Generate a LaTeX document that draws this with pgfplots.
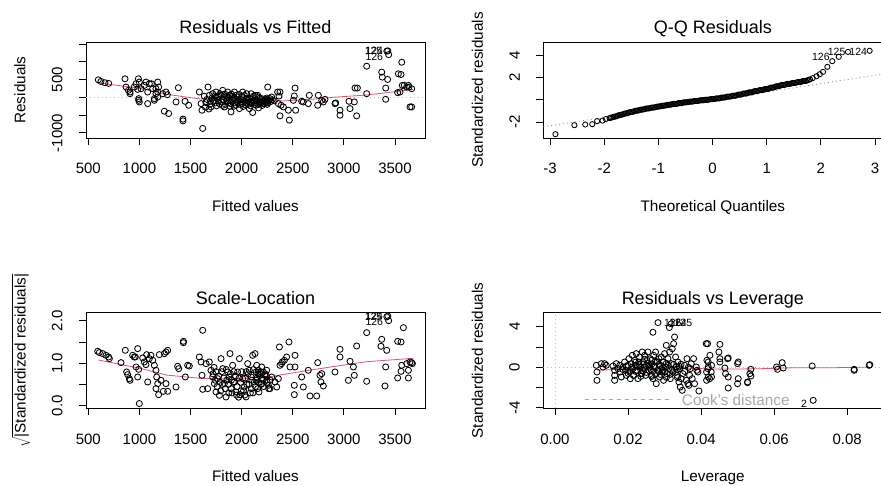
\documentclass[border=0pt]{standalone}
\usepackage{fontspec}
\setmainfont{Liberation Sans}
\usepackage{pgfplots}
\pgfplotsset{compat=1.18}
\definecolor{lowess}{HTML}{DF536B}
\definecolor{refgray}{HTML}{BEBEBE}
\definecolor{qqgray}{HTML}{8C8C8C}
\definecolor{cookgray}{HTML}{A8A8A8}

\pgfplotsset{
  rpanel/.style={
    scale only axis, width=339pt, height=96pt, anchor=south west,
    axis line style={black, line width=0.8pt},
    tick align=outside, xtick pos=left, ytick pos=left,
    major tick length=7pt, tick style={black, line width=0.8pt},
    scaled x ticks=false, scaled y ticks=false,
    ticklabel style={font=\fontsize{15}{18}\selectfont, inner sep=0pt},
    xticklabel style={anchor=north, yshift=-18.3pt},
    yticklabel style={xshift=-16.3pt, rotate=90, anchor=south},
    title style={at={(axis description cs:0.5,1)}, anchor=base, yshift=2pt,
      font=\fontsize{18}{21}\selectfont},
    xlabel style={at={(axis description cs:0.5,0)}, anchor=base, yshift=-73.5pt,
      font=\fontsize{15.3}{18}\selectfont},
    ylabel style={at={([xshift=-60.5pt]axis description cs:0,0.5)}, anchor=base,
      font=\fontsize{15.3}{18}\selectfont},
  },
  pts/.style={only marks, mark=o, mark size=3.05pt, mark options={black, line width=0.85pt}},
}
\tikzset{idlab/.style={font=\fontsize{10.5}{12}\selectfont, inner sep=0pt}}

\begin{document}
\begin{tikzpicture}
\path[use as bounding box] (0,0) rectangle (881pt,486pt);

% ---------------- Residuals vs Fitted ----------------
\begin{axis}[rpanel, at={(86pt,348pt)},
  xmin=477.5, xmax=3793.5, ymin=-1145, ymax=1555,
  xtick={500,1000,1500,2000,2500,3000,3500},
  xticklabels={500,1000,1500,2000,2500,3000,3500},
  ytick={-1000,-500,0,500,1000,1500},
  yticklabels={-1000,,,500,,},
  title={Residuals vs Fitted}, xlabel={Fitted values}, ylabel={Residuals}]
\addplot[refgray, line width=0.8pt, dash pattern=on 1pt off 3pt] coordinates {(477.5,0) (3793.5,0)};
\addplot[pts] table {
598 492
624 446
663 409
699 390
859 520
869 288
892 195
908 148
908 101
950 288
967 381
983 223
990 520
999 428
993 -85
999 -131
993 -38
1016 241
1048 334
1064 428
1081 148
1081 -178
1097 381
1117 381
1130 241
1146 -85
1146 -38
1162 101
1162 241
1179 428
1179 8
1179 148
1188 288
1228 101
1244 -392
1260 148
1273 73
1286 -457
1358 -131
1381 269
1426 -615
1426 -662
1446 -113
1482 -224
1586 148
1603 -178
1612 -364
1619 -876
1635 30
1645 -280
1650 -150
1660 -60
1671 288
1680 -330
1684 55
1690 -200
1695 -110
1700 -271
1710 -20
1717 101
1725 -120
1733 -85
1740 40
1745 -160
1749 148
1755 -240
1766 8
1770 -90
1778 30
1782 -178
1790 100
1798 55
1805 -130
1810 -230
1815 195
1820 -60
1831 -271
1835 90
1840 -200
1847 -38
1855 30
1858 -100
1863 148
1870 -150
1875 -20
1880 55
1885 -250
1893 -180
1896 -411
1900 90
1910 30
1912 -85
1920 -30
1925 -250
1929 148
1935 -160
1940 -60
1945 -224
1950 60
1958 -140
1961 8
1970 -100
1975 80
1978 -318
1985 -200
1990 -60
1994 -131
2000 20
2005 -180
2010 148
2015 -260
2020 -90
2026 55
2035 -150
2040 -220
2043 -38
2050 100
2055 -30
2059 -85
2065 -200
2070 -130
2075 -318
2080 -30
2088 -240
2092 101
2100 -150
2105 -60
2108 -429
2115 30
2120 -150
2124 -85
2130 -200
2131 55
2138 -80
2141 -224
2147 -85
2150 -100
2157 55
2160 -200
2163 8
2165 -300
2173 -131
2178 -30
2180 -131
2190 -150
2196 -38
2200 -230
2205 -140
2210 -100
2212 -178
2225 -180
2228 -85
2235 -120
2240 -60
2245 -20
2250 -200
2255 288
2255 -160
2261 -113
2270 -90
2277 -38
2285 -120
2294 8
2300 -70
2320 -100
2352 148
2359 -178
2365 36
2375 148
2375 -522
2385 -224
2408 -271
2457 -364
2466 -643
2506 -85
2515 36
2522 260
2528 -364
2587 -113
2603 -131
2652 -178
2662 55
2744 -224
2750 55
2783 -85
2799 -131
2815 -57
2913 -178
2920 -160
2962 -364
2962 -504
3050 -113
3060 -318
3102 -131
3109 260
3125 -522
3132 260
3223 874
3223 101
3370 707
3376 567
3409 260
3409 -57
3428 502
3526 130
3533 660
3549 148
3559 641
3566 986
3572 334
3591 334
3614 288
3631 334
3637 288
3647 -271
3663 -271
3663 241
3420 1300
3430 1305
3438 1200
};
\addplot[lowess, line width=0.8pt] coordinates {
(582,408) (800,330) (1006,251) (1267,84) (1593,-47) (2082,-75)
(2408,-103) (2734,-47) (2897,0) (3223,64) (3450,140) (3679,223)};
\node[idlab, anchor=east] at (axis cs:3385,1310) {124};
\node[idlab, anchor=east] at (axis cs:3378,1298) {125};
\node[idlab, anchor=east] at (axis cs:3385,1130) {126};
\end{axis}

% ---------------- Q-Q Residuals ----------------
\begin{axis}[rpanel, at={(543.3pt,348pt)},
  xmin=-3.124, xmax=3.134, ymin=-3.42, ymax=5.19,
  xtick={-3,-2,-1,0,1,2,3},
  xticklabels={-3,-2,-1,0,1,2,3},
  ytick={-2,0,2,4}, yticklabels={-2,,2,4},
  title={Q-Q Residuals}, xlabel={Theoretical Quantiles}, ylabel={Standardized residuals}]
\addplot[qqgray, line width=0.8pt, dash pattern=on 1pt off 3pt] coordinates {(-3.124,-2.42) (3.134,2.31)};
\addplot[pts, mark size=2.6pt] table {
-2.90 -3.08
-2.55 -2.27
-2.35 -2.21
-2.22 -2.18
-2.13 -1.91
-2.03 -1.86
-1.97 -1.72
-1.90 -1.64
-1.875 -1.59
-1.85 -1.57
-1.825 -1.53
-1.80 -1.50
-1.775 -1.47
-1.75 -1.42
-1.725 -1.37
-1.70 -1.35
-1.675 -1.33
-1.65 -1.28
-1.625 -1.23
-1.60 -1.22
-1.575 -1.20
-1.55 -1.15
-1.525 -1.10
-1.50 -1.09
-1.475 -1.08
-1.45 -1.03
-1.425 -0.98
-1.40 -0.97
-1.375 -0.96
-1.35 -0.92
-1.325 -0.88
-1.30 -0.87
-1.275 -0.86
-1.25 -0.82
-1.225 -0.78
-1.20 -0.77
-1.175 -0.77
-1.15 -0.73
-1.125 -0.70
-1.10 -0.69
-1.075 -0.68
-1.05 -0.65
-1.025 -0.61
-1.00 -0.60
-0.975 -0.59
-0.95 -0.56
-0.925 -0.53
-0.90 -0.52
-0.875 -0.51
-0.85 -0.48
-0.825 -0.45
-0.80 -0.44
-0.775 -0.43
-0.75 -0.40
-0.725 -0.37
-0.70 -0.37
-0.675 -0.36
-0.65 -0.33
-0.625 -0.30
-0.60 -0.30
-0.575 -0.29
-0.55 -0.26
-0.525 -0.22
-0.50 -0.22
-0.475 -0.22
-0.45 -0.19
-0.425 -0.16
-0.40 -0.16
-0.375 -0.16
-0.35 -0.13
-0.325 -0.10
-0.30 -0.10
-0.275 -0.10
-0.25 -0.07
-0.225 -0.04
-0.20 -0.04
-0.175 -0.04
-0.15 -0.01
-0.125 0.01
-0.10 0.01
-0.075 0.01
-0.05 0.04
-0.025 0.07
0.00 0.07
0.025 0.07
0.05 0.10
0.075 0.13
0.10 0.13
0.125 0.13
0.15 0.17
0.175 0.21
0.20 0.21
0.225 0.21
0.25 0.25
0.275 0.29
0.30 0.29
0.325 0.29
0.35 0.33
0.375 0.37
0.40 0.37
0.425 0.37
0.45 0.42
0.475 0.47
0.50 0.47
0.525 0.47
0.55 0.52
0.575 0.57
0.60 0.57
0.625 0.57
0.65 0.62
0.675 0.67
0.70 0.67
0.725 0.67
0.75 0.72
0.775 0.78
0.80 0.78
0.825 0.78
0.85 0.83
0.875 0.88
0.90 0.88
0.925 0.88
0.95 0.93
0.975 0.98
1.00 0.98
1.025 0.98
1.05 1.04
1.075 1.10
1.10 1.10
1.125 1.10
1.15 1.16
1.175 1.22
1.20 1.22
1.225 1.22
1.25 1.28
1.275 1.33
1.30 1.33
1.325 1.33
1.35 1.38
1.375 1.43
1.40 1.43
1.425 1.43
1.45 1.47
1.475 1.51
1.50 1.51
1.525 1.51
1.55 1.56
1.575 1.60
1.60 1.60
1.625 1.60
1.65 1.65
1.675 1.70
1.70 1.70
1.725 1.70
1.75 1.75
1.775 1.80
1.80 1.84
1.85 1.95
1.92 2.12
1.98 2.30
2.04 2.51
2.12 2.96
2.21 3.47
2.33 3.86
2.50 4.30
2.90 4.40
};
\node[idlab] at (axis cs:2.00,3.82) {126};
\node[idlab] at (axis cs:2.29,4.27) {125};
\node[idlab] at (axis cs:2.69,4.27) {124};
\end{axis}

% ---------------- Scale-Location ----------------
\begin{axis}[rpanel, at={(86pt,77.5pt)},
  xmin=477.5, xmax=3793.5, ymin=-0.066, ymax=2.193,
  xtick={500,1000,1500,2000,2500,3000,3500},
  xticklabels={500,1000,1500,2000,2500,3000,3500},
  ytick={0,0.5,1,1.5,2}, yticklabels={0.0,,1.0,,2.0},
  title={Scale-Location}, xlabel={Fitted values},
  ylabel={$\sqrt{\mbox{|Standardized residuals|}}$}]
\addplot[pts] table {
592 1.28
608 1.25
641 1.225
673 1.185
699 1.146
706 1.107
820 1.013
862 1.303
875 0.793
885 0.731
901 0.636
908 0.597
934 1.185
950 1.146
960 1.146
983 1.342
967 0.911
983 0.676
993 0.856
999 0.05
1032 1.123
1048 1.029
1064 0.966
1071 1.201
1081 0.558
1097 1.107
1113 1.185
1130 1.068
1146 0.95
1162 0.833
1169 0.676
1162 0.401
1179 0.519
1188 0.26
1195 1.201
1211 0.597
1234 0.338
1244 1.225
1260 1.264
1277 1.303
1260 0.519
1277 0.338
1358 0.44
1374 0.927
1384 0.872
1430 1.515
1430 1.483
1449 0.676
1472 0.95
1488 0.934
1619 1.774
1586 1.146
1603 1.029
1612 0.715
1619 0.385
1652 0.989
1668 0.401
1684 1.029
1700 0.833
1717 0.676
1720 0.75
1730 0.9
1733 0.519
1740 0.6
1749 0.323
1750 0.8
1760 0.45
1766 0.636
1775 0.7
1782 0.244
1790 0.55
1795 0.35
1798 1.107
1805 0.8
1812 0.5
1815 0.872
1825 0.65
1831 0.519
1840 0.4
1847 0.205
1850 0.85
1855 0.6
1863 0.793
1870 0.5
1875 0.3
1880 0.676
1886 1.225
1890 0.75
1896 0.401
1900 0.6
1905 0.3
1912 0.95
1920 0.55
1925 0.8
1929 0.558
1940 0.7
1945 0.323
1950 0.25
1955 0.45
1961 0.793
1970 0.2
1975 0.65
1978 1.107
1984 0.26
1990 0.55
1995 0.35
2000 0.8
2010 0.636
2018 0.35
2026 0.44
2030 0.25
2035 0.65
2043 0.205
2045 0.8
2050 0.5
2059 0.989
2065 0.75
2070 0.5
2075 0.833
2085 0.3
2092 0.676
2095 0.4
2100 0.6
2108 1.185
2110 0.3
2115 0.85
2124 0.558
2135 0.45
2140 0.6
2141 0.793
2150 0.65
2157 0.401
2160 0.75
2165 0.55
2173 0.715
2185 0.8
2190 0.5
2200 0.65
2210 0.6
2215 0.45
2230 0.75
2240 0.7
2250 0.55
2265 0.4
2280 0.6
2131 1.225
2147 0.95
2163 0.833
2180 0.754
2196 0.911
2212 0.793
2228 0.715
2245 0.833
2170 0.323
2196 0.519
2245 0.597
2261 0.48
2277 0.401
2294 0.676
2326 0.558
2343 0.44
2359 0.636
2369 1.382
2375 0.95
2391 0.989
2398 1.029
2418 1.068
2440 1.146
2463 1.499
2473 0.911
2522 1.185
2522 0.911
2515 0.48
2515 0.26
2587 0.676
2603 0.44
2652 0.833
2669 0.229
2734 0.229
2744 1.013
2766 0.715
2783 0.754
2776 0.558
2799 0.464
2913 0.793
2962 1.327
2962 1.146
3044 0.597
3060 1.044
3093 0.911
3102 0.715
3125 1.405
3223 1.719
3223 0.574
3370 1.562
3363 1.397
3419 1.303
3409 0.911
3402 0.464
3526 1.515
3559 1.499
3582 1.836
3566 0.95
3559 0.809
3526 0.652
3631 0.833
3631 0.652
3614 0.989
3647 1.029
3663 1.013
3670 0.989
3420 2.09
3430 2.11
3438 2.00
};
\addplot[lowess, line width=0.8pt] coordinates {
(598,1.075) (1006,0.88) (1267,0.72) (1593,0.645) (1918,0.628) (2245,0.68)
(2300,0.69) (2571,0.80) (2897,0.92) (3223,1.035) (3679,1.115)};
\node[idlab, anchor=east] at (axis cs:3385,2.11) {124};
\node[idlab, anchor=east] at (axis cs:3378,2.10) {125};
\node[idlab, anchor=east] at (axis cs:3385,1.98) {126};
\end{axis}

% ---------------- Residuals vs Leverage ----------------
\begin{axis}[rpanel, at={(543.3pt,77.5pt)},
  xmin=-0.0032, xmax=0.0896, ymin=-4.06, ymax=5.40,
  xtick={0,0.02,0.04,0.06,0.08},
  xticklabels={0.00,0.02,0.04,0.06,0.08},
  ytick={-4,-2,0,2,4}, yticklabels={-4,,0,,4},
  title={Residuals vs Leverage}, xlabel={Leverage}, ylabel={Standardized residuals}]
\addplot[refgray, line width=0.8pt, dash pattern=on 1pt off 3pt] coordinates {(-0.0032,0) (0.0896,0)};
\addplot[refgray, line width=0.8pt, dash pattern=on 1pt off 3pt] coordinates {(0,-4.06) (0,5.40)};
\addplot[pts] table {
0.01131 0.194
0.01149 -0.463
0.01149 -1.284
0.01268 0.358
0.01313 0.029
0.01359 0.358
0.01404 0.194
0.01587 0.128
0.01633 -0.299
0.01633 -0.792
0.01633 -1.284
0.01678 0.358
0.01724 -0.135
0.0177 0.194
0.01788 -0.463
0.01815 -0.956
0.01850 -0.2
0.01861 0.029
0.01906 0.522
0.01933 -0.299
0.01950 0.1
0.01952 -0.792
0.01997 0.194
0.02000 -0.6
0.02025 0.85
0.02043 -0.463
0.0205 -0.3
0.02061 -1.12
0.02088 0.358
0.02100 0.0
0.02116 1.179
0.02134 -0.135
0.02150 -0.8
0.02152 -0.792
0.0218 0.686
0.02200 -0.4
0.022 0.5
0.02207 0.194
0.02225 1.343
0.0225 0.1
0.02243 -0.299
0.02271 -1.12
0.02298 0.522
0.02300 0.3
0.02316 1.015
0.02335 0.029
0.02350 -0.9
0.0238 -0.6
0.02362 -0.627
0.02389 1.507
0.02400 -0.3
0.02408 0.522
0.02426 -0.135
0.0245 0.8
0.02450 0.0
0.02453 1.179
0.02481 -0.792
0.02499 0.194
0.02500 -0.5
0.02517 0.686
0.02545 1.507
0.02550 0.4
0.0258 0.2
0.02572 -0.299
0.0259 0.029
0.02608 0.85
0.02620 -0.2
0.02636 -0.792
0.0265 0.7
0.02650 -0.9
0.02663 0.358
0.0268 -0.4
0.02681 -1.12
0.02680 3.45
0.02700 0.1
0.027 1.179
0.02727 0.029
0.0275 0.6
0.02754 1.507
0.02772 -1.613
0.02780 -0.6
0.02791 0.522
0.02818 -0.299
0.02845 0.85
0.0285 -0.4
0.02850 0.3
0.02864 -0.956
0.02880 -0.7
0.02882 0.194
0.02909 1.015
0.02920 -0.1
0.0295 -0.3
0.02937 -0.463
0.02955 0.522
0.02973 -1.284
0.03 1.343
0.03000 -0.4
0.03028 0.029
0.0305 0.4
0.0305 -1.0
0.03046 2.164
0.03064 -0.627
0.03092 0.85
0.03100 0.2
0.03119 -0.135
0.0315 -0.7
0.03137 1.507
0.03155 -1.12
0.03183 0.358
0.03200 -0.3
0.0321 1.836
0.0325 0.3
0.03228 -0.463
0.03247 2.328
0.03274 2.985
0.03300 -0.5
0.03301 1.015
0.0332 0.029
0.0335 -0.2
0.0335 -1.0
0.03338 -0.792
0.03365 0.522
0.03393 -1.448
0.03400 0.1
0.0345 0.3
0.03411 -0.135
0.03429 -1.941
0.03456 -1.12
0.03484 -2.269
0.03502 -0.627
0.0355 -0.4
0.03548 0.194
0.0365 0.0
0.03594 -1.284
0.03612 0.85
0.03639 -1.613
0.03666 -1.777
0.03685 -0.792
0.03703 -0.135
0.0373 0.358
0.03757 -1.12
0.03794 0.85
0.03821 -1.613
0.03867 0.029
0.03885 -0.299
0.03912 -0.463
0.0394 -2.335
0.0414 2.328
0.0415 -0.463
0.0415 -1.284
0.04158 0.686
0.04177 2.328
0.04186 -0.135
0.04195 0.522
0.04195 0.029
0.04195 -0.956
0.04232 -1.12
0.04241 1.179
0.04277 -0.463
0.04286 0.194
0.04286 -0.956
0.04487 1.507
0.04514 2.262
0.04514 0.85
0.04514 0.522
0.04651 -0.069
0.04669 -0.627
0.04724 0.85
0.04742 0.916
0.04742 -0.956
0.04742 -2.04
0.04998 0.358
0.05016 0.522
0.05016 -1.12
0.04998 -1.613
0.05271 -1.448
0.05271 -1.514
0.05335 -0.627
0.05363 -0.2
0.05363 -0.857
0.06065 0.029
0.06092 -0.2
0.0622 0.456
0.06247 -0.069
0.0704 0.128
0.07068 -3.255
0.0819 -0.2
0.0819 -0.299
0.0860 0.194
0.08618 0.259
0.0282 4.40
0.0318 4.28
0.0313 3.92
};
\addplot[lowess, line width=0.8pt] coordinates {
(0.0115,-0.30) (0.02,-0.15) (0.03,-0.05) (0.035,-0.08) (0.045,-0.18)
(0.055,-0.15) (0.065,-0.05) (0.075,-0.05) (0.086,0.02)};
\addplot[cookgray, line width=0.8pt, dash pattern=on 4pt off 4pt] coordinates {(0.0081,-3.15) (0.0315,-3.15)};
\node[font=\fontsize{15.3}{18}\selectfont, text=cookgray, anchor=west, inner sep=0pt] at (axis cs:0.0347,-3.2) {Cook's distance};
\node[idlab, anchor=west] at (axis cs:0.0298,4.33) {126};
\node[idlab, anchor=west] at (axis cs:0.0312,4.39) {124};
\node[idlab, anchor=west] at (axis cs:0.0327,4.39) {125};
\node[idlab] at (axis cs:0.0682,-3.62) {2};
\end{axis}
\end{tikzpicture}
\end{document}
